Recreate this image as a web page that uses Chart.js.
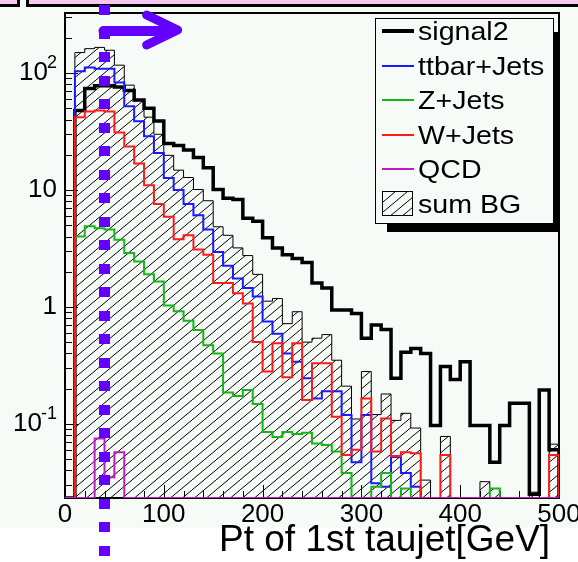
<!DOCTYPE html>
<html>
<head>
<meta charset="utf-8">
<script src="https://cdn.jsdelivr.net/npm/chart.js@4.4.1/dist/chart.umd.min.js"></script>
<style>
  html, body { margin: 0; padding: 0; background: #fff; }
  #wrap { position: relative; width: 578px; height: 562px; overflow: hidden; font-family: "Liberation Sans", Arial, sans-serif; }
  #c { position: absolute; left: 0; top: 0; }
  .shadow { position: absolute; background: #000; }
  #legbox { position: absolute; left: 375px; top: 18px; width: 179px; height: 206px; box-sizing: border-box; border: 1px solid #000; background: #f7fbf7; }
  .row { position: absolute; left: 0; height: 30px; width: 178px; }
  .row .smp { position: absolute; left: 6px; top: 15px; width: 32px; }
  .row .txt { position: absolute; left: 42px; top: 0; font-size: 26px; line-height: 30px; color: #000; white-space: nowrap; transform: scaleX(1.1); transform-origin: left center; }
  .row .box { position: absolute; left: 6px; top: 2px; width: 31px; height: 25px; box-sizing: border-box; border: 1px solid #000; }
  #xtitle { position: absolute; left: 219px; top: 518px; font-size: 37px; line-height: 42px; color: #000; white-space: nowrap; }
</style>
</head>
<body>
<div id="wrap">
  <canvas id="c" width="578" height="562"></canvas>
  <div class="shadow" style="left:553px;top:32px;width:6px;height:200px;"></div>
  <div class="shadow" style="left:387px;top:223px;width:172px;height:9px;"></div>
  <div id="legbox"></div>
  <div id="xtitle">Pt of 1st taujet[GeV]</div>
</div>
<script>
// histogram binning: 50 bins of 10 GeV from 0 to 500
const binWidth = 10;
const xMin = 0, xMax = 500;
const xTickStep = 100;
const yFloor = 0.0232, yTop = 327;
const yTickValues = [0.1, 1, 10, 100];
const yTickBase = ['10', '1', '10', '10'];
const yTickExp = ['-1', '', '', '2'];
const cutPt = 39;      // GeV, dotted cut line
const arrowEnd = 114;  // GeV, arrow tip

// bin contents, bin 0 = 0-10 GeV ... bin 49 = 490-500 GeV
const signal2 = [0, 48, 74, 78, 78, 76, 71, 59, 50, 39,
  25, 24, 22, 19, 15.5, 10.1, 8.5, 8.3, 5.75, 5.4,
  3.9, 3.2, 2.8, 2.6, 2.4, 1.6, 1.45, 0.94, 0.94, 0.88,
  0.54, 0.70, 0.64, 0.245, 0.41, 0.44, 0.40, 0.097, 0.31, 0.24,
  0.34, 0.097, 0.097, 0.047, 0.097, 0.15, 0.15, 0.025, 0.195, 0.06];
const ttbarJets = [0, 104, 112, 109, 109, 83, 52, 38.7, 28.8, 20.7,
  12.7, 10, 7.6, 6.1, 4.6, 2.95, 2.25, 1.75, 1.45, 1.23,
  0.75, 0.59, 0.40, 0.34, 0.245, 0.165, 0.19, 0.19, 0.119, 0.047,
  0.119, 0.031, 0.029, 0.052, 0.038, 0.029, 0, 0, 0, 0,
  0, 0, 0, 0, 0, 0, 0, 0, 0, 0];
const zJets = [0, 4.0, 4.9, 4.7, 4.6, 3.75, 2.9, 2.45, 1.9, 1.65,
  1.03, 0.92, 0.76, 0.635, 0.47, 0.40, 0.185, 0.173, 0.195, 0.148,
  0.085, 0.077, 0.085, 0.082, 0.084, 0.068, 0.066, 0.058, 0.038, 0,
  0, 0.029, 0.038, 0, 0.028, 0, 0, 0, 0, 0,
  0, 0, 0, 0.028, 0, 0, 0, 0, 0, 0];
const wJets = [0, 42, 47, 48, 47, 31, 23.6, 16.9, 11, 7.6,
  5.9, 3.8, 4.1, 3.1, 2.8, 1.6, 1.6, 1.31, 1.07, 0.50,
  0.28, 0.49, 0.25, 0.49, 0.16, 0.33, 0.33, 0.115, 0.054, 0.06,
  0.165, 0.058, 0.111, 0.053, 0.057, 0.056, 0, 0, 0.054, 0,
  0, 0, 0, 0, 0, 0, 0, 0, 0, 0.054];
const qcd = [0, 0, 0, 0.075, 0.035, 0.057, 0, 0, 0, 0,
  0, 0, 0, 0, 0, 0, 0, 0, 0, 0,
  0, 0, 0, 0, 0, 0, 0, 0, 0, 0,
  0, 0, 0, 0, 0, 0, 0, 0, 0, 0,
  0, 0, 0, 0, 0, 0, 0, 0, 0, 0];
const sumBG = [0, 150, 162, 166, 157, 117, 79, 58, 42, 30,
  19.8, 14.8, 12.8, 10.1, 8.1, 4.85, 4.1, 3.2, 2.75, 1.9,
  1.12, 1.18, 0.72, 0.91, 0.50, 0.54, 0.58, 0.35, 0.21, 0.11,
  0.28, 0.12, 0.18, 0.107, 0.123, 0.092, 0.033, 0, 0.078, 0,
  0, 0, 0.032, 0.028, 0, 0, 0, 0.026, 0, 0.067];

const canvas = document.getElementById('c');
const ctx = canvas.getContext('2d');

// hatch "///" like ROOT fill style 3004
const hatchTile = document.createElement('canvas');
hatchTile.width = 12; hatchTile.height = 10;
const ht = hatchTile.getContext('2d');
ht.strokeStyle = '#000'; ht.lineWidth = 1;
[-12, 0, 12].forEach(dx => {
  ht.beginPath(); ht.moveTo(dx, 10); ht.lineTo(dx + 12, 0); ht.stroke();
});
const hatch = ctx.createPattern(hatchTile, 'repeat');

// zero bins are drawn at the bottom of the frame, as ROOT does on a log axis
function histPoints(vals) {
  const pts = vals.map((v, i) => ({ x: xMin + i * binWidth, y: v > 0 ? v : yFloor }));
  pts.push({ x: xMax, y: yFloor });
  return pts;
}

function histSet(label, vals, color, width, order, extra) {
  return Object.assign({
    label: label,
    data: histPoints(vals),
    borderColor: color,
    borderWidth: width,
    stepped: 'before',   // horizontal across the bin, then vertical at the next edge
    pointRadius: 0,
    fill: false,
    order: order
  }, extra || {});
}

const datasets = [
  histSet('signal2', signal2, '#000000', 3.5, 6),
  histSet('ttbar+Jets', ttbarJets, '#1a1aff', 2, 5),
  histSet('Z+Jets', zJets, '#14b814', 2, 4),
  histSet('W+Jets', wJets, '#ff1a1a', 2, 3),
  histSet('QCD', qcd, '#c21bc2', 2, 1),
  histSet('sum BG', sumBG, '#000000', 1, 7, { fill: 'start', backgroundColor: hatch })
];

const decorPlugin = {
  id: 'decor',
  beforeDraw(chart) {
    const c = chart.ctx;
    c.save();
    c.fillStyle = '#ffffff'; c.fillRect(0, 0, 578, 562);
    c.fillStyle = '#f7fbf7'; c.fillRect(0, 0, 578, 528);
    // slide strip at the top
    c.fillStyle = '#f5c8f2';
    c.fillRect(0, 0, 17, 4); c.fillRect(29, 0, 549, 4);
    c.fillStyle = '#000';
    c.fillRect(0, 4, 20, 3); c.fillRect(17, 0, 3, 7);
    c.fillRect(26, 0, 3, 7); c.fillRect(26, 4, 552, 3);
    c.restore();
  },
  beforeDatasetsDraw(chart) {
    const c = chart.ctx, a = chart.chartArea;
    const xs = chart.scales.x, ys = chart.scales.y;
    c.save();
    // frame
    c.strokeStyle = '#000';
    c.lineWidth = 2;
    c.strokeRect(a.left, a.top, a.right - a.left, a.bottom - a.top);
    // ticks pointing inside the frame
    c.lineWidth = 1;
    c.beginPath();
    for (let v = xMin; v <= xMax; v += 20) {
      const px = Math.round(xs.getPixelForValue(v)) + 0.5;
      const len = v % xTickStep === 0 ? 13 : 7;
      c.moveTo(px, a.bottom); c.lineTo(px, a.bottom - len);
    }
    for (let d = -2; d <= 2; d++) {
      for (let m = 1; m <= 9; m++) {
        const v = m * Math.pow(10, d);
        if (v < yFloor || v > yTop) continue;
        const py = Math.round(ys.getPixelForValue(v)) + 0.5;
        c.moveTo(a.left, py); c.lineTo(a.left + (m === 1 ? 13 : 7), py);
      }
    }
    c.stroke();
    c.restore();
  },
  afterDraw(chart) {
    const c = chart.ctx;
    const xs = chart.scales.x, ys = chart.scales.y;
    c.save();
    // y labels with superscript exponents
    c.fillStyle = '#000';
    c.textBaseline = 'middle';
    c.textAlign = 'right';
    yTickValues.forEach((v, i) => {
      const py = ys.getPixelForValue(v);
      let right = 57;
      if (yTickExp[i]) {
        c.font = '18px "Liberation Sans", Arial, sans-serif';
        c.fillText(yTickExp[i], right, py - 10);
        right -= c.measureText(yTickExp[i]).width - 1;
      }
      c.font = '26px "Liberation Sans", Arial, sans-serif';
      c.fillText(yTickBase[i], right, py);
    });
    // cut marker: dotted line and arrow
    const cx = xs.getPixelForValue(cutPt);
    c.fillStyle = '#6400ff';
    for (let yy = 5; yy < 548; yy += 23.5) c.fillRect(Math.round(cx - 5), Math.round(yy), 11, 10);
    const tip = xs.getPixelForValue(arrowEnd);
    c.strokeStyle = '#6400ff';
    c.lineCap = 'round'; c.lineJoin = 'round';
    c.lineWidth = 10;
    c.beginPath(); c.moveTo(cx, 31); c.lineTo(tip - 6, 31); c.stroke();
    c.lineWidth = 9;
    c.beginPath(); c.moveTo(tip - 31, 15); c.lineTo(tip, 30); c.lineTo(tip - 31, 45); c.stroke();
    c.restore();
  }
};

const chart = new Chart(ctx, {
  type: 'line',
  data: { datasets: datasets },
  options: {
    responsive: false,
    animation: false,
    devicePixelRatio: 1,
    layout: { padding: { left: 0, top: 13, right: 19, bottom: 24 } },
    plugins: { legend: { display: false }, tooltip: { enabled: false } },
    scales: {
      x: {
        type: 'linear', min: xMin, max: xMax, bounds: 'data',
        grid: { display: false, drawTicks: false },
        border: { display: false },
        ticks: {
          stepSize: xTickStep, color: '#000', padding: 1, maxRotation: 0, autoSkip: false,
          font: { family: '"Liberation Sans", Arial, sans-serif', size: 26 }
        },
        afterFit(s) { s.height = 40; s.paddingLeft = 0; s.paddingRight = 0; }
      },
      y: {
        type: 'logarithmic', min: yFloor, max: yTop, bounds: 'data',
        grid: { display: false, drawTicks: false },
        border: { display: false },
        ticks: { display: false },
        afterFit(s) { s.width = 65; s.paddingTop = 0; s.paddingBottom = 0; }
      }
    }
  },
  plugins: [decorPlugin]
});

// legend in ROOT TLegend style, built from the chart's datasets
const legbox = document.getElementById('legbox');
const hatchUrl = hatchTile.toDataURL();
chart.data.datasets.forEach((ds, i) => {
  const row = document.createElement('div');
  row.className = 'row';
  row.style.top = (-3 + i * 34.5) + 'px';
  let smp;
  if (ds.fill) {
    smp = '<div class="box" style="background-image:url(' + hatchUrl + ')"></div>';
  } else {
    const h = ds.borderWidth;
    smp = '<div class="smp" style="height:' + h + 'px;margin-top:' + (-h / 2) + 'px;background:' + ds.borderColor + '"></div>';
  }
  row.innerHTML = smp + '<span class="txt">' + ds.label + '</span>';
  legbox.appendChild(row);
});
</script>
</body>
</html>
